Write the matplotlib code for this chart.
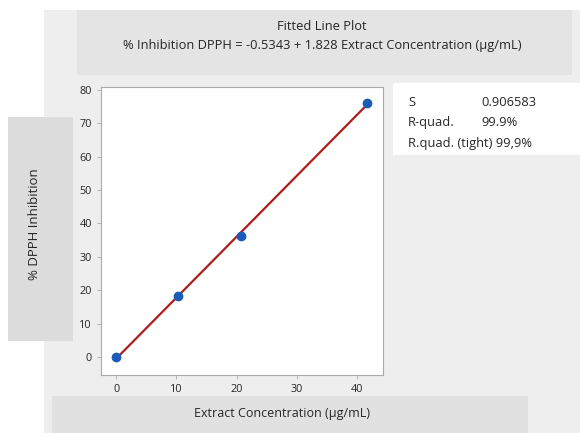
import matplotlib
matplotlib.use("Agg")
from matplotlib import pyplot
from matplotlib.patches import Rectangle

# data
conc = [0.0, 10.3, 20.7, 41.6]
inhib = [0.0, 18.3, 36.3, 76.0]
intercept = -0.5343
slope = 1.828
xticks = [0, 10, 20, 30, 40]
yticks = [0, 10, 20, 30, 40, 50, 60, 70, 80]
stat_names = ["S", "R-quad.", "R.quad. (tight)"]
stat_values = ["0.906583", "99.9%", "99,9%"]

W, H = 580, 433
fontname = "Open Sans"
textcolor = "#262626"


def box(fig, x0, y0, x1, y1, color):
    # pixel coords from top-left of the picture
    fig.add_artist(Rectangle((x0 / W, 1 - y1 / H), (x1 - x0) / W, (y1 - y0) / H,
                             transform=fig.transFigure, facecolor=color,
                             edgecolor="none", zorder=0))


def main():
    matplotlib.rc("font", family=[fontname, "DejaVu Sans"])
    fig = pyplot.figure(figsize=(W / 100, H / 100), dpi=100, facecolor="white")

    box(fig, 44, 10, 580, 433, "#eeeeee")
    box(fig, 77, 10, 572, 75, "#e4e4e4")
    box(fig, 8, 117, 73, 341, "#dcdcdc")
    box(fig, 52, 396, 528, 433, "#e1e1e1")
    box(fig, 393, 83, 580, 155, "white")

    fig.text(322 / W, 1 - 27 / H, "Fitted Line Plot", ha="center", va="center",
             fontsize=9.3, color=textcolor)
    fig.text(322 / W, 1 - 46 / H,
             f"% Inhibition DPPH = {intercept:.4f} + {slope:.3f} Extract Concentration (µg/mL)",
             ha="center", va="center", fontsize=9.3, color=textcolor)
    fig.text(34 / W, 1 - 224 / H, "% DPPH Inhibition", rotation=90, ha="center",
             va="center", fontsize=9.5, color=textcolor)
    fig.text(282 / W, 1 - 413 / H, "Extract Concentration (µg/mL)", ha="center",
             va="center", fontsize=9.0, color=textcolor)

    for i, (name, value) in enumerate(zip(stat_names, stat_values)):
        y = 1 - (102 + 20.5 * i) / H
        if i < 2:
            fig.text(408 / W, y, name, ha="left", va="center", fontsize=9.3, color=textcolor)
            fig.text(481 / W, y, value, ha="left", va="center", fontsize=9.3, color=textcolor)
        else:
            fig.text(408 / W, y, name + " " + value, ha="left", va="center",
                     fontsize=9.3, color=textcolor)

    ax = fig.add_axes([101 / W, 1 - 375 / H, (383 - 101) / W, (375 - 87) / H])
    ax.set_facecolor("white")
    ax.plot([min(conc), max(conc)],
            [intercept + slope * min(conc), intercept + slope * max(conc)],
            color="#b01c1c", linewidth=1.6, zorder=2)
    ax.plot(conc, inhib, linestyle="none", marker="o", markersize=6,
            color="#1a5cb8", zorder=3)

    ax.set_xlim(-2.5, 44.3)
    ax.set_ylim(-5.4, 80.9)
    ax.set_xticks(xticks)
    ax.set_yticks(yticks)
    for s in ax.spines.values():
        s.set_color("#aaaaaa")
        s.set_linewidth(0.8)
    ax.tick_params("both", labelsize=7.8, colors="#aaaaaa", labelcolor=textcolor,
                   length=3, width=0.6)

    fig.savefig("out.png", dpi=100, facecolor=fig.get_facecolor())
    pyplot.close(fig)


if __name__ == "__main__":
    main()
